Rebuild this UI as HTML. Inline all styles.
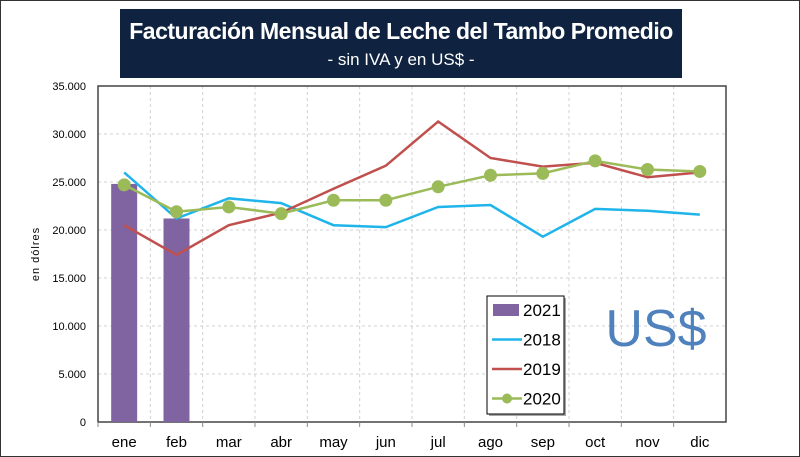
<!DOCTYPE html>
<html><head><meta charset="utf-8"><style>
body{margin:0;background:#fff}
#wrap{position:relative;width:800px;height:457px;overflow:hidden;background:#fff;box-sizing:border-box;border:1px solid #333;font-family:"Liberation Sans Narrow","Liberation Sans",sans-serif}
#title{position:absolute;left:119px;top:8px;width:562px;height:69px;background:#0f2340;color:#fff;text-align:center}
</style></head><body>
<div id="wrap">
<div id="title">
<div style="font-size:23px;font-weight:bold;margin-top:9px;letter-spacing:-0.5px">Facturación Mensual de Leche del Tambo Promedio</div>
<div style="font-size:17px;margin-top:5px">- sin IVA y en US$ -</div>
</div>
<svg id="svg" width="800" height="457" style="position:absolute;left:0;top:0"></svg>
</div>
<script>
const months=["ene","feb","mar","abr","may","jun","jul","ago","sep","oct","nov","dic"];
const s2021=[24800,21200];
const s2018=[26000,21200,23300,22800,20500,20300,22400,22600,19300,22200,22000,21600];
const s2019=[20500,17400,20500,21800,24300,26700,31300,27500,26600,27000,25500,26000];
const s2020=[24700,21900,22400,21700,23100,23100,24500,25700,25900,27200,26300,26100];
const yTicks=[0,5000,10000,15000,20000,25000,30000,35000];
const yTickLabels=["0","5.000","10.000","15.000","20.000","25.000","30.000","35.000"];
const L=97,R=725,T=85,B=421,W=(R-L)/12;
const x=i=>L+W*(i+0.5), y=v=>B-(v/35000)*(B-T);
const svg=document.getElementById('svg');const NS="http://www.w3.org/2000/svg";
function mk(t,a,p){const e=document.createElementNS(NS,t);for(const k in a)e.setAttribute(k,a[k]);(p||svg).appendChild(e);return e;}
// grid
yTicks.forEach((v,i)=>{if(v>0){const g=mk('line',{x1:L,x2:R,y1:y(v),y2:y(v),stroke:'#d0d0d0','stroke-dasharray':'3,3'});

}
const t=mk('text',{x:L-12,y:y(v)+4,'text-anchor':'end','font-size':11,fill:'#000','font-family':'Liberation Sans Narrow, Liberation Sans, sans-serif'});t.textContent=yTickLabels[i];

});
for(let i=1;i<12;i++){const g=mk('line',{x1:L+W*i,x2:L+W*i,y1:T,y2:B,stroke:'#d0d0d0','stroke-dasharray':'3,3'});

}
const pa=mk('rect',{x:L,y:T,width:R-L,height:B-T,fill:'none',stroke:'#444','stroke-width':1.5});


months.forEach((m,i)=>{const t=mk('text',{x:x(i),y:446,'text-anchor':'middle','font-size':15,fill:'#000','font-family':'Liberation Sans Narrow, Liberation Sans, sans-serif'});t.textContent=m;


const tk=mk('line',{x1:L+W*i,x2:L+W*i,y1:B,y2:B+5,stroke:'#888'});

});
const yl=mk('text',{x:0,y:0,transform:'translate(38,253) rotate(-90)','text-anchor':'middle','font-size':11,fill:'#000','letter-spacing':'1'});yl.textContent="en dólres";


s2021.forEach((v,i)=>{const b=mk('rect',{x:x(i)-13,y:y(v),width:26,height:B-y(v),fill:'#8064a2'});

});
function line(d,c,n){const l=mk('polyline',{points:d.map((v,i)=>x(i)+','+y(v)).join(' '),fill:'none',stroke:c,'stroke-width':2.5});

}
line(s2018,'#1fb4ea','line-2018');line(s2019,'#c0504d','line-2019');line(s2020,'#9bbb59','line-2020');
s2020.forEach((v,i)=>{const c=mk('circle',{cx:x(i),cy:y(v),r:6.5,fill:'#9bbb59'});

});
// legend
const lg=mk('g',{});


mk('rect',{x:488,y:297,width:77,height:118,fill:'#000',opacity:0.35},lg);
mk('rect',{x:486,y:295,width:77,height:118,fill:'#fff',stroke:'#000','stroke-width':1},lg);
const items=[['2021','bar','#8064a2'],['2018','line','#1fb4ea'],['2019','line','#c0504d'],['2020','dot','#9bbb59']];
items.forEach((it,k)=>{const cy=309+k*29.5;const g=mk('g',{},lg);


if(it[1]=='bar')mk('rect',{x:492,y:cy-6,width:26,height:12,fill:it[2]},g);
else mk('line',{x1:491,x2:521,y1:cy,y2:cy,stroke:it[2],'stroke-width':2.5},g);
if(it[1]=='dot')mk('circle',{cx:506,cy:cy,r:5,fill:it[2]},g);
const t=mk('text',{x:522,y:cy+6,'font-size':17,fill:'#000','font-family':'Liberation Sans Narrow, Liberation Sans, sans-serif'},g);t.textContent=it[0];});
const us=mk('text',{x:655,y:345,'text-anchor':'middle','font-size':52,fill:'#4f81bd','font-family':'Liberation Sans Narrow, Liberation Sans, sans-serif'});us.textContent="US$";


</script>
</body></html>
